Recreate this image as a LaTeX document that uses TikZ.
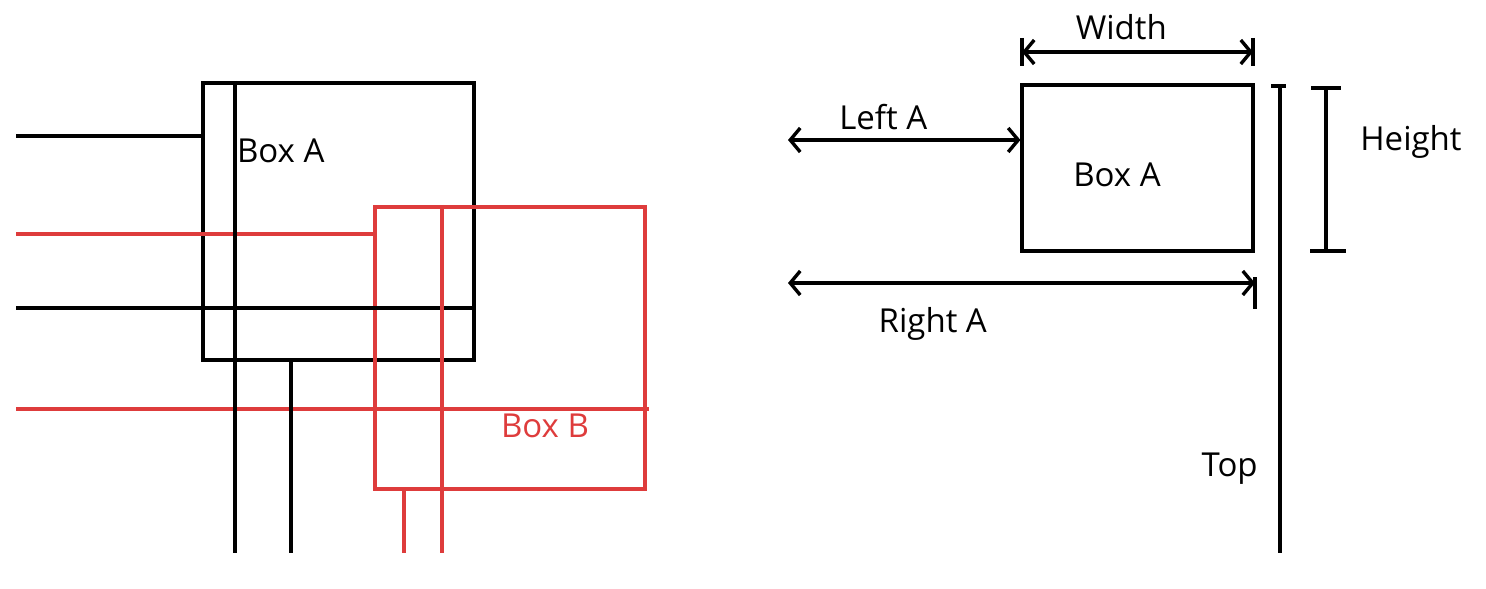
\documentclass[tikz,border=0pt]{standalone}
\usepackage{fontspec}
\setmainfont{Open Sans}
\usepackage{xcolor}
\usetikzlibrary{positioning,arrows.meta}
\definecolor{boxred}{RGB}{222,60,60}
\tikzstyle{box} = [rectangle, draw=black, line width=2pt, inner sep=0pt]
\tikzstyle{redbox} = [box, draw=boxred]
\tikzstyle{wire} = [line width=1.7pt, draw=black]
\tikzstyle{redwire} = [wire, draw=boxred]
\tikzstyle{dim} = [line width=1.7pt, {Straight Barb[length=5pt,width=12pt]}-{Straight Barb[length=5pt,width=12pt]}]
\tikzstyle{tick} = [line width=1.7pt]
\tikzstyle{every node}=[font=\fontsize{16.5pt}{20pt}\selectfont]

\begin{document}
\begin{tikzpicture}[x=0.5pt,y=-0.5pt]
		\useasboundingbox (0,0) rectangle (1486,588);
		% left: two overlapping boxes
		\node (boxA) [box, minimum width=135.5pt, minimum height=138.5pt] at (338.5,221.5) {};
		\node (boxB) [redbox, minimum width=135pt, minimum height=141pt] at (510,348) {};
		\node (labA) [anchor=west] at (230,151) {Box A};
		\node (labB) [text=boxred] at (545,426) {Box B};
		\coordinate (w1) at (16,136);
		\coordinate (w2) at (16,234);
		\coordinate (w3) at (16,308);
		\coordinate (w4) at (16,409);
		\coordinate (w4e) at (649,409);
		\coordinate (v1) at (235,553);
		\coordinate (v2) at (291,553);
		\coordinate (v3) at (404,553);
		\coordinate (v4) at (442,553);
		\draw [wire](w1) -- (w1 -| boxA.west);
		\draw [redwire](w2) -- (w2 -| boxB.west);
		\draw [wire](w3) -- (w3 -| boxA.east);
		\draw [redwire](w4) -- (w4e);
		\draw [wire](v1 |- boxA.north) -- (v1);
		\draw [wire](v2 |- boxA.south) -- (v2);
		\draw [redwire](v3 |- boxB.south) -- (v3);
		\draw [redwire](v4 |- boxB.north) -- (v4);
		% right: box with its measures
		\node (boxR) [box, line width=1.6pt, minimum width=115.5pt, minimum height=83pt] at (1137.5,168) {};
		\node (labR) at (1117,175) {Box A};
		\coordinate (wdL) at (1022,52);
		\coordinate (wdR) at (1253,52);
		\coordinate (lfL) at (788,140);
		\coordinate (rtL) at (788,283);
		\coordinate (rtR) at (1255,283);
		\coordinate (topT) at (1280,86);
		\coordinate (topB) at (1280,553);
		\coordinate (htT) at (1326,88);
		\coordinate (htB) at (1326,251);
		\draw [dim](wdL) -- node[above=2pt, pos=0.43] {Width}(wdR);
		\draw [tick]([yshift=7pt]wdL) -- ([yshift=-7pt]wdL);
		\draw [tick]([yshift=7pt]wdR) -- ([yshift=-7pt]wdR);
		\draw [dim](lfL) -- node[above=1pt, pos=0.41] {Left A}(lfL -| boxR.west);
		\draw [dim](rtL) -- node[below=8pt, pos=0.31] {Right A}(rtR);
		\draw [tick]([yshift=3pt]rtR) -- ([yshift=-13pt]rtR);
		\draw [tick](topT) -- node[left=7pt, pos=0.82] {Top}(topB);
		\draw [tick]([xshift=-4.5pt]topT) -- ([xshift=3pt]topT);
		\draw [tick](htT) -- node[right=13pt, pos=0.33] {Height}(htB);
		\draw [tick]([xshift=-7.5pt]htT) -- ([xshift=7.5pt]htT);
		\draw [tick]([xshift=-8pt]htB) -- ([xshift=10pt]htB);
	\end{tikzpicture}
\end{document}
